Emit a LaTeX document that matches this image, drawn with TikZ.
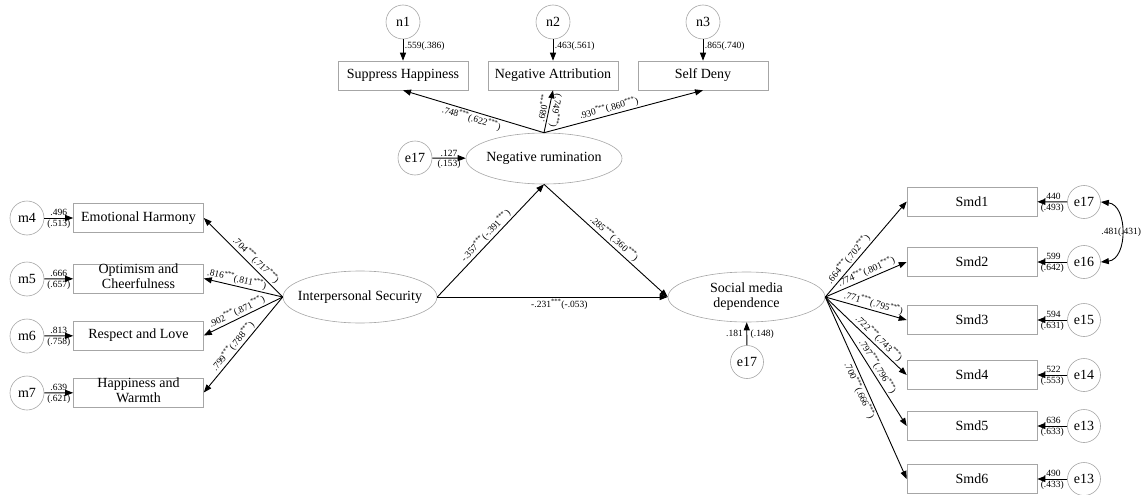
\documentclass[tikz,border=0pt]{standalone}
\usepackage{fontspec}
\setmainfont{Liberation Serif}
\usetikzlibrary{shapes.geometric,arrows.meta}
\newcommand\mainf{\fontsize{14}{15}\selectfont}
\newcommand\labf{\fontsize{9.5}{10}\selectfont}
\newcommand\sig{\textsuperscript{***}}
\newcommand\twol[2]{\raisebox{-3.5pt}[0pt][0pt]{\begin{tabular}{@{}c@{}}#1\\#2\end{tabular}}}
\begin{document}
\begin{tikzpicture}[x=1pt,y=-1pt,
  lat/.style={ellipse,draw=gray!70,line width=0.6pt,inner sep=0pt,font=\mainf},
  obs/.style={rectangle,draw=gray!70,line width=0.6pt,minimum width=130pt,minimum height=29pt,inner sep=0pt,font=\mainf},
  err/.style={circle,draw=gray!70,line width=0.6pt,minimum size=34pt,inner sep=0pt,font=\mainf},
  arr/.style={-{Triangle[length=8pt,width=6pt]},line width=0.9pt},
  dbl/.style={{Triangle[length=8pt,width=6pt]}-{Triangle[length=8pt,width=6pt]},line width=0.9pt},
  lab/.style={font=\labf,inner sep=1.5pt},
]
\useasboundingbox (0,0) rectangle (1143,495);

% top indicators
\node[err] (n1) at (403,22) {n1};
\node[err] (n2) at (553,22) {n2};
\node[err] (n3) at (703,22) {n3};
\node[obs] (sh) at (403,75.5) {Suppress Happiness};
\node[obs] (na) at (553,75.5) {Negative Attribution};
\node[obs] (sd) at (703,75.5) {Self Deny};

% latent variables
\node[lat,minimum width=156pt,minimum height=51pt] (nr) at (544,158.5) {\makebox[0pt]{Negative rumination}};
\node[err] (ea) at (415,158) {e17};
\node[lat,minimum width=154pt,minimum height=52pt] (is) at (360,297) {\makebox[0pt]{Interpersonal Security}};
\node[lat,minimum width=157pt,minimum height=50pt] (smd) at (746.5,297) {\makebox[0pt]{\twol{Social media}{dependence}}};
\node[err,minimum size=33pt] (eb) at (747,362) {e17};

% left indicators
\node[err] (m4) at (27,218) {m4};
\node[err] (m5) at (27,279) {m5};
\node[err] (m6) at (27,336) {m6};
\node[err] (m7) at (27,393) {m7};
\node[obs] (o4) at (138.5,218) {Emotional Harmony};
\node[obs] (o5) at (138.5,278.5) {\twol{Optimism and}{Cheerfulness}};
\node[obs] (o6) at (138.5,335.5) {Respect and Love};
\node[obs] (o7) at (138.5,392.5) {\twol{Happiness and}{Warmth}};

% right indicators
\node[obs] (s1) at (972,201.5) {Smd1};
\node[obs] (s2) at (972,262) {Smd2};
\node[obs] (s3) at (972,320) {Smd3};
\node[obs] (s4) at (972,375) {Smd4};
\node[obs] (s5) at (972,426) {Smd5};
\node[obs] (s6) at (972,479) {Smd6};
\node[err,minimum size=33pt] (r1) at (1084,202) {e17};
\node[err,minimum size=33pt] (r2) at (1084,262) {e16};
\node[err,minimum size=33pt] (r3) at (1084,320) {e15};
\node[err,minimum size=33pt] (r4) at (1084,375) {e14};
\node[err,minimum size=33pt] (r5) at (1084,426) {e13};
\node[err,minimum size=33pt] (r6) at (1084,479) {e13};

% top connectors
\draw[arr] (n1) -- node[lab,right,pos=.3]{.559(.386)} (sh);
\draw[arr] (n2) -- node[lab,right,pos=.3]{.463(.561)} (na);
\draw[arr] (n3) -- node[lab,right,pos=.3]{.865(.740)} (sd);
\draw[arr] (nr.north) -- node[lab,sloped,below,pos=.5]{.748\sig(.622\sig)} (sh.south);
\draw[arr] (nr.north) -- node[lab,sloped,above,pos=.55]{.680\sig} node[lab,pos=.55,rotate=-100,anchor=south]{(.749\sig)} (na.south);
\draw[arr] (nr.north) -- node[lab,sloped,above,pos=.42]{.930\sig(.860\sig)} (sd.south);
\draw[arr] (ea) -- node[lab,above]{.127} node[lab,below]{(.153)} (nr);

% structural paths
\draw[arr] (is.east) -- node[lab,sloped,above,pos=.5]{-.357\sig(-.391\sig)} (nr.south);
\draw[arr] (nr.south) -- node[lab,sloped,above,pos=.53]{.285\sig(.360\sig)} (smd.west);
\draw[arr] (is.east) -- node[lab,below,pos=.53]{-.231\sig(-.053)} (smd.west);
\draw[arr] (eb) -- node[lab,left,xshift=-2pt]{.181} node[lab,right,xshift=2pt]{(.148)} (smd);

% left measurement
\draw[arr] (m4) -- node[lab,above]{.496} node[lab,below]{(.513)} (o4);
\draw[arr] (m5) -- node[lab,above]{.666} node[lab,below]{(.657)} (o5);
\draw[arr] (m6) -- node[lab,above]{.813} node[lab,below]{(.758)} (o6);
\draw[arr] (m7) -- node[lab,above]{.639} node[lab,below]{(.621)} (o7);
\draw[arr] (is.west) -- node[lab,sloped,above,pos=.4]{.704\sig(.717\sig)} (o4.east);
\draw[arr] (is.west) -- node[lab,sloped,above,pos=.6]{.816\sig(.811\sig)} (o5.east);
\draw[arr] (is.west) -- node[lab,sloped,above,pos=.54]{.902\sig(.871\sig)} (o6.east);
\draw[arr] (is.west) -- node[lab,sloped,above,pos=.56]{.799\sig(.788\sig)} (o7.east);

% right measurement
\draw[arr] (smd.east) -- node[lab,sloped,above,pos=.35]{.664\sig(.702\sig)} (s1.west);
\draw[arr] (smd.east) -- node[lab,sloped,above,pos=.54]{.774\sig(.801\sig)} (s2.west);
\draw[arr] (smd.east) -- node[lab,sloped,above,pos=.57]{.771\sig(.795\sig)} (s3.west);
\draw[arr] (smd.east) -- node[lab,sloped,above,pos=.6]{.722\sig(.743\sig)} (s4.west);
\draw[arr] (smd.east) -- node[lab,sloped,above,pos=.57]{.797\sig(.796\sig)} (s5.west);
\draw[arr] (smd.east) -- node[lab,sloped,below,pos=.5]{.700\sig(.666\sig)} (s6.west);
\draw[arr] (r1) -- node[lab,above]{.440} node[lab,below]{(.493)} (s1);
\draw[arr] (r2) -- node[lab,above]{.599} node[lab,below]{(.642)} (s2);
\draw[arr] (r3) -- node[lab,above]{.594} node[lab,below]{(.631)} (s3);
\draw[arr] (r4) -- node[lab,above]{.522} node[lab,below]{(.553)} (s4);
\draw[arr] (r5) -- node[lab,above]{.636} node[lab,below]{(.633)} (s5);
\draw[arr] (r6) -- node[lab,above]{.490} node[lab,below]{(.433)} (s6);
\draw[dbl] (r1.east) .. controls (1128,205) and (1128,259) .. node[lab,pos=.5]{.481(.431)} (r2.east);
\end{tikzpicture}
\end{document}
